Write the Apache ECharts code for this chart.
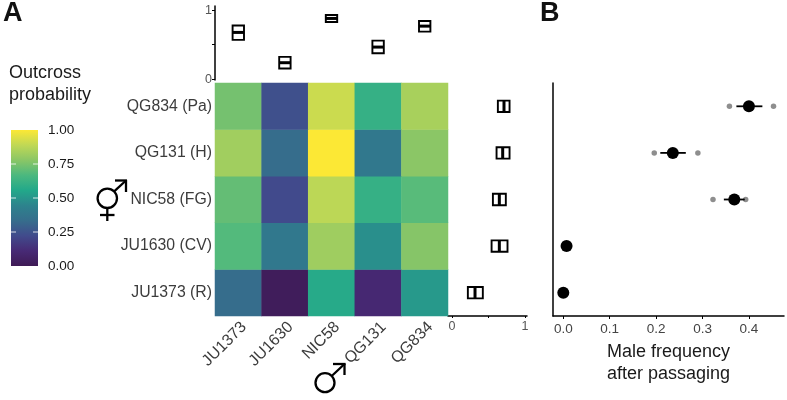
<!DOCTYPE html>
<html>
<head>
<meta charset="utf-8">
<style>
  html, body { margin: 0; padding: 0; background: #fff; }
  #chart { width: 787px; height: 400px; }
</style>
<script src="https://cdn.jsdelivr.net/npm/echarts@6/dist/echarts.min.js"></script>
</head>
<body>
<div id="chart"></div>
<script>
var males = ['JU1373', 'JU1630', 'NIC58', 'QG131', 'QG834'];
var hermaphrodites = ['JU1373 (R)', 'JU1630 (CV)', 'NIC58 (FG)', 'QG131 (H)', 'QG834 (Pa)'];
var strainRows = ['JU1373', 'JU1630', 'NIC58', 'QG131', 'QG834'];

// one row per hermaphrodite, bottom to top, columns follow males
var outcrossJU1373 = [0.335, 0.02, 0.57, 0.10, 0.51];
var outcrossJU1630 = [0.68, 0.39, 0.82, 0.48, 0.77];
var outcrossNIC58 = [0.71, 0.22, 0.88, 0.61, 0.69];
var outcrossQG131 = [0.825, 0.335, 1.00, 0.39, 0.78];
var outcrossQG834 = [0.74, 0.24, 0.91, 0.61, 0.84];

// low, median, high of the margins
var topLow = [0.57, 0.156, 0.829, 0.377, 0.69];
var topMid = [0.678, 0.24, 0.88, 0.466, 0.769];
var topHigh = [0.778, 0.325, 0.93, 0.56, 0.844];
var rightLow = [0.217, 0.542, 0.56, 0.61, 0.628];
var rightMid = [0.315, 0.648, 0.648, 0.694, 0.712];
var rightHigh = [0.422, 0.76, 0.737, 0.788, 0.788];

// male frequency, bottom to top
var freqMean = [0, 0.007, 0.3685, 0.236, 0.4];
var freqLow = [null, null, 0.346, 0.209, 0.373];
var freqHigh = [null, null, 0.391, 0.264, 0.429];
var repA = [null, null, 0.3226, 0.196, 0.358];
var repB = [null, null, 0.393, 0.29, 0.453];

var colorTicks = [0.25, 0.5, 0.75];
var viridis = ['#3f1a55', '#472a75', '#414b8c', '#366d8c', '#2d838d', '#22a88a', '#4bb87f', '#8ac666', '#c0d855', '#fce835'];

var textColor = '#1a1a1a';
var labelColor = '#3c3c3c';
var fontName = '"Liberation Sans", Arial, sans-serif';

var heatData = [];
[outcrossJU1373, outcrossJU1630, outcrossNIC58, outcrossQG131, outcrossQG834].forEach(function(row, y) {
  row.forEach(function(v, x) {
    heatData.push([x, y, v]);
  });
});

function zip3(a, b, c) {
  return a.map(function(v, i) { return [i, v, b[i], c[i]]; });
}

// 竖向的小盒子
function renderTopBox(params, api) {
  var x = api.coord([api.value(0), 0])[0];
  var low = api.coord([0, api.value(1)])[1];
  var mid = api.coord([0, api.value(2)])[1];
  var high = api.coord([0, api.value(3)])[1];
  return {
    type: 'group',
    children: [
      { type: 'rect', shape: { x: x - 5.7, y: high, width: 11.4, height: low - high }, style: { fill: '#fff', stroke: '#000', lineWidth: 1.9 } },
      { type: 'line', shape: { x1: x - 5.7, y1: mid, x2: x + 5.7, y2: mid }, style: { stroke: '#000', lineWidth: 3 } }
    ]
  };
}

// 横向的小盒子
function renderRightBox(params, api) {
  var y = api.coord([0, api.value(0)])[1];
  var low = api.coord([api.value(1), 0])[0];
  var mid = api.coord([api.value(2), 0])[0];
  var high = api.coord([api.value(3), 0])[0];
  return {
    type: 'group',
    children: [
      { type: 'rect', shape: { x: low, y: y - 5.7, width: high - low, height: 11.4 }, style: { fill: '#fff', stroke: '#000', lineWidth: 1.9 } },
      { type: 'line', shape: { x1: mid, y1: y - 5.7, x2: mid, y2: y + 5.7 }, style: { stroke: '#000', lineWidth: 3 } }
    ]
  };
}

function renderErrorBar(params, api) {
  var y = api.coord([0, api.value(0)])[1];
  return {
    type: 'line',
    shape: { x1: api.coord([api.value(1), 0])[0], y1: y, x2: api.coord([api.value(2), 0])[0], y2: y },
    style: { stroke: '#000', lineWidth: 1.8 }
  };
}

// 色条和白色刻度
function renderColorBar(params, api) {
  var left = params.coordSys.x;
  var right = left + params.coordSys.width;
  var bottom = api.coord([0, 0])[1];
  var top = api.coord([0, 1])[1];
  var stops = viridis.map(function(c, i) {
    return { offset: i / (viridis.length - 1), color: c };
  });
  var children = [{
    type: 'rect',
    shape: { x: left, y: top, width: right - left, height: bottom - top },
    style: { fill: new echarts.graphic.LinearGradient(0, 1, 0, 0, stops) }
  }];
  colorTicks.forEach(function(t) {
    var y = api.coord([0, t])[1];
    var tickStyle = { stroke: '#fff', lineWidth: 0.8 };
    children.push({ type: 'line', shape: { x1: left, y1: y, x2: left + 5, y2: y }, style: tickStyle });
    children.push({ type: 'line', shape: { x1: right - 5, y1: y, x2: right, y2: y }, style: tickStyle });
  });
  return { type: 'group', children: children };
}

var sym = { stroke: '#000', lineWidth: 2.3, fill: 'none' };

function symbolLine(x1, y1, x2, y2) {
  return { type: 'line', shape: { x1: x1, y1: y1, x2: x2, y2: y2 }, style: sym };
}

var chart = echarts.init(document.getElementById('chart'));
chart.setOption({
  animation: false,
  backgroundColor: '#fff',
  textStyle: { fontFamily: fontName },
  grid: [
    { left: 215, top: 83, width: 233, height: 233 },
    { left: 215, top: 6, width: 233, height: 74 },
    { left: 448, top: 83, width: 79, height: 233 },
    { left: 553, top: 83, width: 231, height: 233 },
    { left: 11, top: 130, width: 27, height: 136 }
  ],
  xAxis: [
    {
      gridIndex: 0, type: 'category', data: males,
      axisLine: { show: false }, axisTick: { show: false },
      axisLabel: { rotate: 45, margin: 3, fontSize: 16, color: labelColor, interval: 0, verticalAlign: 'top', fontFamily: fontName }
    },
    { gridIndex: 1, type: 'category', data: males, show: false },
    {
      gridIndex: 2, type: 'value', min: -0.055, max: 1.027,
      axisLine: { show: true, onZero: false, lineStyle: { color: '#000', width: 1.5 } },
      axisTick: { show: true, length: 2, lineStyle: { color: '#000' }, customValues: [0, 0.5, 1] },
      axisLabel: { fontSize: 12.5, margin: 4, color: '#555', customValues: [0, 1], fontFamily: fontName },
      splitLine: { show: false }
    },
    {
      gridIndex: 3, type: 'value', min: -0.0222, max: 0.4756,
      axisLine: { show: true, onZero: false, lineStyle: { color: '#000', width: 1.5 } },
      axisTick: { show: true, length: 3, lineStyle: { color: '#000' }, customValues: [0, 0.1, 0.2, 0.3, 0.4] },
      axisLabel: { fontSize: 13.5, margin: 6, color: '#444', customValues: [0, 0.1, 0.2, 0.3, 0.4], fontFamily: fontName, formatter: function(v) { return v.toFixed(1); } },
      splitLine: { show: false },
      name: 'Male frequency\nafter passaging', nameLocation: 'middle', nameGap: 22,
      nameTextStyle: { fontSize: 18, color: textColor, lineHeight: 22, fontFamily: fontName }
    },
    { gridIndex: 4, type: 'value', min: 0, max: 1, show: false }
  ],
  yAxis: [
    {
      gridIndex: 0, type: 'category', data: hermaphrodites,
      axisLine: { show: false }, axisTick: { show: false },
      axisLabel: { fontSize: 15.8, margin: 3, color: labelColor, fontFamily: fontName }
    },
    {
      gridIndex: 1, type: 'value', min: -0.01, max: 1.06,
      axisLine: { show: true, onZero: false, lineStyle: { color: '#000', width: 1.5 } },
      axisTick: { show: true, length: 3, lineStyle: { color: '#000' }, customValues: [0, 0.5, 1] },
      axisLabel: { fontSize: 12.5, margin: 3, color: '#555', customValues: [0, 1], fontFamily: fontName },
      splitLine: { show: false }
    },
    { gridIndex: 2, type: 'category', data: strainRows, show: false },
    {
      gridIndex: 3, type: 'category', data: strainRows,
      axisLine: { show: true, onZero: false, lineStyle: { color: '#000', width: 1.5 } },
      axisTick: { show: false }, axisLabel: { show: false }
    },
    {
      gridIndex: 4, type: 'value', min: 0, max: 1, interval: 0.25, position: 'right',
      axisLine: { show: false },
      axisTick: { show: false },
      axisLabel: { fontSize: 13.5, margin: 10, color: textColor, fontFamily: fontName, formatter: function(v) { return v.toFixed(2); } },
      splitLine: { show: false }
    }
  ],
  visualMap: {
    show: false, min: 0, max: 1, seriesIndex: 0, dimension: 2,
    inRange: { color: viridis }
  },
  series: [
    {
      type: 'heatmap', xAxisIndex: 0, yAxisIndex: 0, data: heatData,
      itemStyle: { borderWidth: 0 }, progressive: 0
    },
    {
      type: 'custom', xAxisIndex: 1, yAxisIndex: 1, renderItem: renderTopBox,
      data: zip3(topLow, topMid, topHigh), encode: { x: 0, y: [1, 2, 3] }, silent: true
    },
    {
      type: 'custom', xAxisIndex: 2, yAxisIndex: 2, renderItem: renderRightBox,
      data: zip3(rightLow, rightMid, rightHigh), encode: { y: 0, x: [1, 2, 3] }, silent: true
    },
    {
      type: 'custom', xAxisIndex: 3, yAxisIndex: 3, renderItem: renderErrorBar, z: 3,
      data: freqLow.map(function(v, i) { return [i, v, freqHigh[i]]; }).filter(function(d) { return d[1] !== null; }),
      encode: { y: 0, x: [1, 2] }, silent: true
    },
    {
      type: 'scatter', xAxisIndex: 3, yAxisIndex: 3, symbolSize: 5.5, z: 2,
      itemStyle: { color: '#8e8e8e', opacity: 1 },
      data: repA.map(function(v, i) { return [v, i]; }).concat(repB.map(function(v, i) { return [v, i]; })).filter(function(d) { return d[0] !== null; })
    },
    {
      type: 'scatter', xAxisIndex: 3, yAxisIndex: 3, symbolSize: 12, z: 4,
      itemStyle: { color: '#000', opacity: 1 },
      data: freqMean.map(function(v, i) { return [v, i]; })
    },
    {
      type: 'custom', xAxisIndex: 4, yAxisIndex: 4, renderItem: renderColorBar,
      data: [[0, 0]], silent: true, z: 1
    }
  ],
  graphic: [
    { type: 'text', left: 3, top: 0, style: { text: 'A', fontSize: 27, fontWeight: 'bold', fill: '#111', fontFamily: fontName } },
    { type: 'text', left: 540, top: 0, style: { text: 'B', fontSize: 27, fontWeight: 'bold', fill: '#111', fontFamily: fontName } },
    { type: 'text', left: 9, top: 62, style: { text: 'Outcross\nprobability', fontSize: 18, lineHeight: 22, fill: textColor, fontFamily: fontName } },
    // hermaphrodite sign
    { type: 'circle', shape: { cx: 107.3, cy: 198.3, r: 9.7 }, style: sym },
    symbolLine(114.2, 191.4, 126, 180.5),
    symbolLine(115, 180.5, 127, 180.5),
    symbolLine(126, 180, 126, 192),
    symbolLine(107.3, 208, 107.3, 221),
    symbolLine(100, 215, 114.5, 215),
    // male sign
    { type: 'circle', shape: { cx: 325, cy: 382.7, r: 9.5 }, style: sym },
    symbolLine(331.7, 376, 344.5, 364),
    symbolLine(333, 364, 345.5, 364),
    symbolLine(344.5, 363.5, 344.5, 375)
  ]
});
</script>
</body>
</html>
